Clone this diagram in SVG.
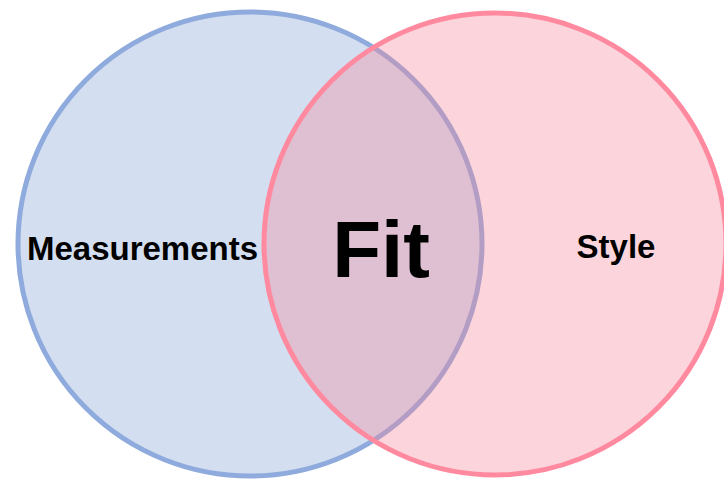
<svg xmlns="http://www.w3.org/2000/svg" width="724" height="480" viewBox="0 0 724 480">
<style>
.lbl{font-family:"Liberation Sans",Arial,sans-serif;font-weight:bold;fill:#000;text-anchor:middle}
</style>
<rect width="724" height="480" fill="#fff"/>
<g id="measurements">
<circle cx="250" cy="244" r="232" fill="#D3DEF0" stroke="#8FAADC" stroke-width="5"/>
</g>
<g id="style">
<circle cx="495" cy="244" r="231" fill="rgb(246,135,155)" fill-opacity="0.35" stroke="#FF8AA0" stroke-width="5"/>
</g>
<g id="labels">
<text class="lbl" x="142.5" y="259.5" font-size="33">Measurements</text>
<text class="lbl" x="381" y="277" font-size="80">Fit</text>
<text class="lbl" x="616" y="258" font-size="33">Style</text>
</g>
</svg>
